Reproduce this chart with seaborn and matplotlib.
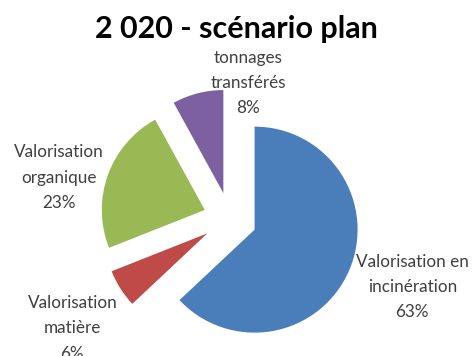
import matplotlib
matplotlib.use("Agg")
import matplotlib.pyplot as plt
import seaborn as sns

# Waste treatment breakdown, 2020 plan scenario
categories = ["Valorisation en\nincinération", "Valorisation\nmatière",
              "Valorisation\norganique", "tonnages\ntransférés"]
shares = [63, 6, 23, 8]
title = "2 020 - scénario plan"

colors = ["#4A7EBB", "#BE4B48", "#98B954", "#7D60A0"]
# label anchors (data units, pie radius = 1)
label_pos = [(1.77, -0.66), (-1.53, -1.06), (-1.66, 0.40), (0.175, 1.32)]

sns.set_theme(style="white")
plt.rcParams["font.family"] = ["Lato", "DejaVu Sans"]

fig = plt.figure(figsize=(4.72, 3.56), dpi=100)
ax = fig.add_axes([0, 0, 1, 1])

wedges, _ = ax.pie(shares, colors=colors, startangle=90, counterclock=False,
                   explode=[0.26] * len(shares), radius=1.0,
                   wedgeprops=dict(linewidth=0))

scale = 103.0  # pixels per radius unit
cx, cy = 230.0, 137.0
ax.set_xlim(-cx / scale, (472 - cx) / scale)
ax.set_ylim(-cy / scale, (356 - cy) / scale)
ax.set_aspect("auto")
ax.axis("off")

for name, val, (x, y) in zip(categories, shares, label_pos):
    ax.text(x, y, f"{name}\n{val}%", ha="center", va="center",
            fontsize=12.3, color="#404040", linespacing=1.72)

fig.text(0.5, 1 - 29 / 356, title, ha="center", va="center",
         fontsize=22, fontweight="bold", color="black")

fig.savefig("out.png", dpi=100)
